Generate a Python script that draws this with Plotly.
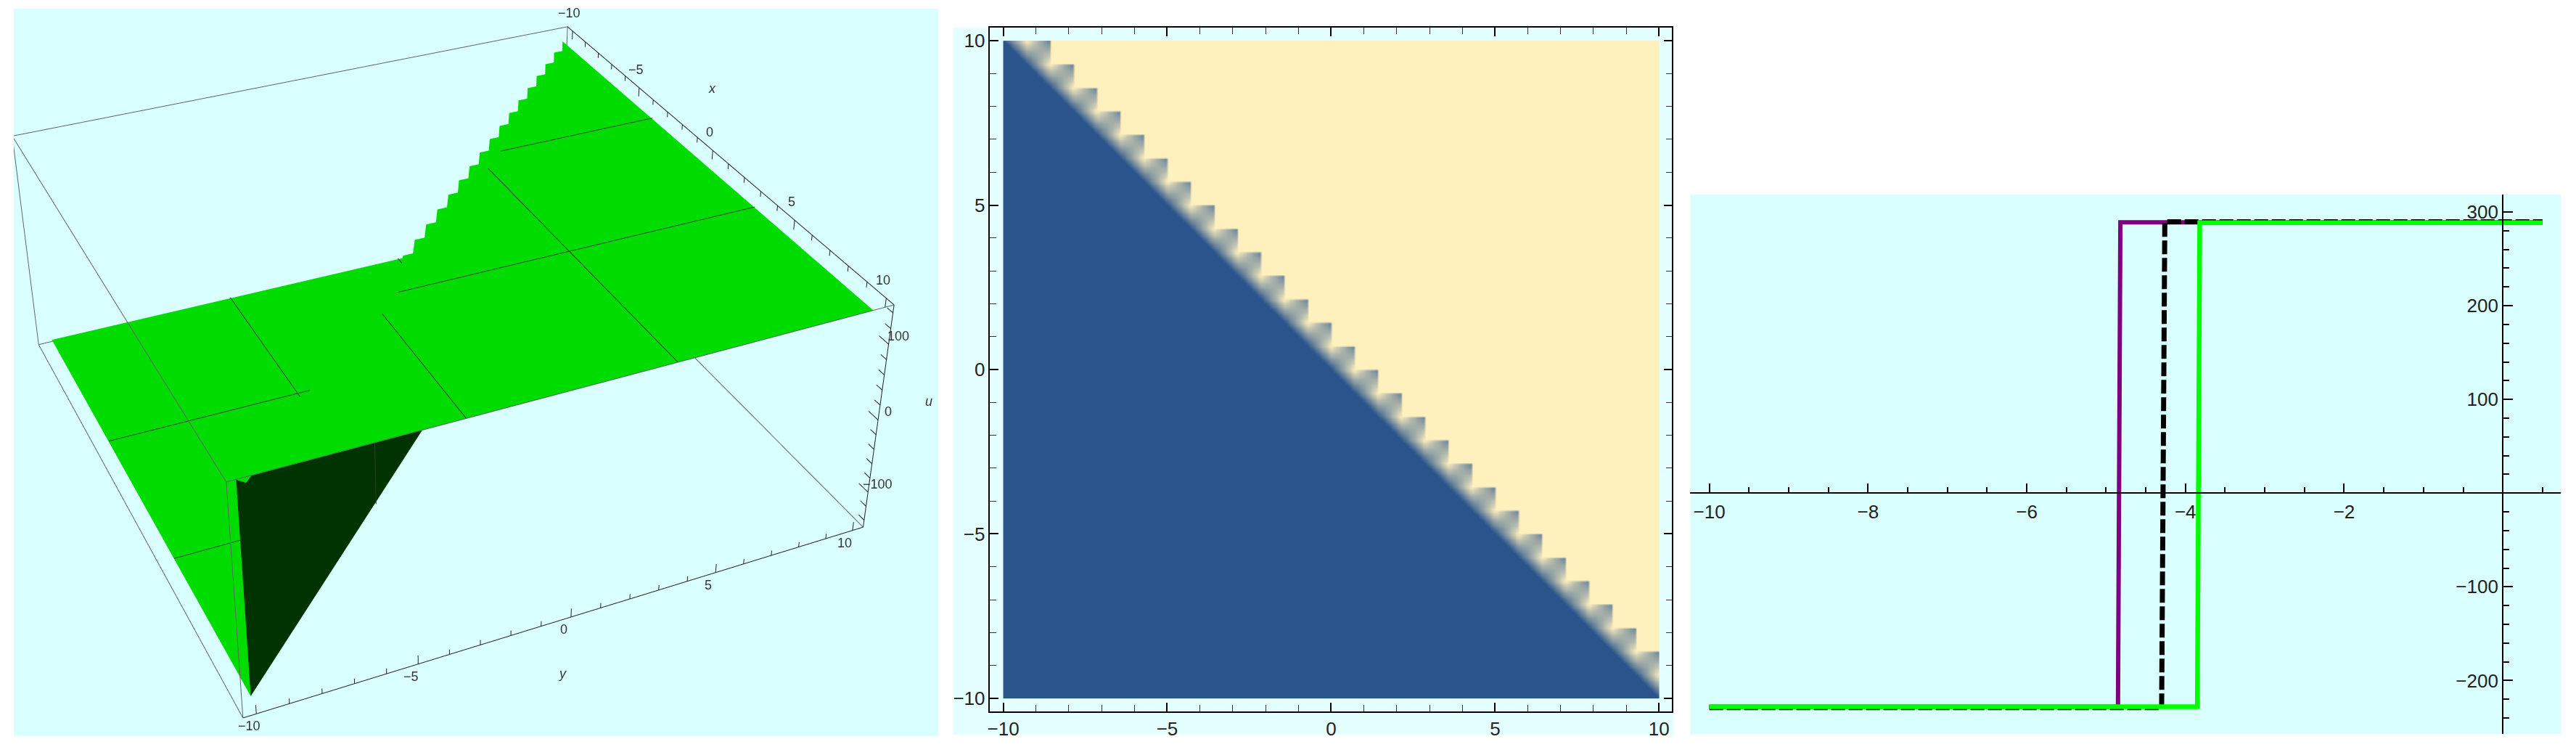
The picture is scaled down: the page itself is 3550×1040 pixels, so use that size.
import numpy as np
import plotly.graph_objects as go

W, H = 3550, 1040
CYAN = "#DAFFFF"

# --- 3D panel
x_range = [-10.4, 10.4]
y_range = [-10.4, 10.4]
u_range = [-150, 150]
u_low, u_high = -138, 138
grid = [-10, -9.286, -8.571, -7.857, -7.143, -6.429, -5.714, -5, -4.286, -3.571, -2.857, -2.143, -1.429, -0.714, 0,
        0.714, 1.429, 2.143, 2.857, 3.571, 4.286, 5, 5.714, 6.429, 7.143, 7.857, 8.571, 9.286, 10]
tooth_frac = 0.53
mesh_vals = [-3.33, 3.33]
mesh_gap = 0.9
wall_x = [10, -10, -10, 9.6, 10]
wall_y = [-10, 10, 10, -9.6, -10]
wall_u = [-138, -138, 120, 120, 138]
cam_eye = dict(x=2.5473, y=-1.1331, z=1.8024)
cam_center = dict(x=0.208, y=-0.0142, z=0.0466)
cam_up = dict(x=-0.311, y=0.1371, z=1)
cam_aspect = dict(x=1.0, y=0.9901, z=0.3957)
cam_fovy = 2 * np.arctan(np.tan(np.pi / 8) / 2.4455)

vx, vy, vz, ti, tj, tk = [], [], [], [], [], []
for k in range(len(grid) - 1):
    x_a, x_b = grid[k], grid[k + 1]
    y_top, y_bot = -x_a, -x_b
    y_mid = y_top - tooth_frac * (y_top - y_bot)
    for row in ([x_a, y_top, x_b, y_mid], [x_b, y_mid, x_b, y_bot]):
        b = len(vx)
        vx += [row[0], 10, 10, row[2]]
        vy += [row[1], row[1], row[3], row[3]]
        vz += [u_high] * 4
        ti += [b, b]
        tj += [b + 1, b + 2]
        tk += [b + 2, b + 3]

fig = go.Figure()
flat = dict(ambient=1, diffuse=0, specular=0, fresnel=0, roughness=1)
fig.add_trace(go.Mesh3d(x=vx, y=vy, z=vz, i=ti, j=tj, k=tk, color="#00DC00", flatshading=True, lighting=flat, hoverinfo="skip"))
fig.add_trace(go.Mesh3d(x=[-10, 10, -10], y=[-10, -10, 10], z=[u_low] * 3, i=[0], j=[1], k=[2], color="#00DC00",
                        flatshading=True, lighting=flat, hoverinfo="skip"))
fig.add_trace(go.Mesh3d(x=wall_x, y=wall_y, z=wall_u, i=[0, 0, 0], j=[1, 2, 3], k=[2, 3, 4],
                        color="#003300", flatshading=True, lighting=flat, hoverinfo="skip"))

lx, ly, lz = [], [], []
for v in mesh_vals:
    lx += [v, v, None, v, v, None, -10, -v, None, -v + mesh_gap, 10, None]
    ly += [-v + mesh_gap, 10, None, -10, -v, None, v, v, None, v, v, None]
    lz += [u_high + 1, u_high + 1, None, u_low + 1, u_low + 1, None, u_low + 1, u_low + 1, None, u_high + 1, u_high + 1, None]
lx += [mesh_vals[1] + 0.03, mesh_vals[1] + 0.03, None]
ly += [mesh_vals[0] + 0.03, mesh_vals[0] + 0.03, None]
lz += [u_low, 120, None]
fig.add_trace(go.Scatter3d(x=lx, y=ly, z=lz, mode="lines", line=dict(color="#2F3F2F", width=2), hoverinfo="skip"))

bx, by, bz = [], [], []
xa, xb = x_range
ya, yb = y_range
ua, ub = u_range
for a, c in [(xa, ya), (xa, yb), (xb, yb), (xb, ya)]:
    bx += [a, a, None]
    by += [c, c, None]
    bz += [ua, ub, None]
bx += [xa, xa, xb, xb, xa, None, xa, xa, xb, xb, xa, None]
by += [ya, yb, yb, ya, ya, None, ya, yb, yb, ya, ya, None]
bz += [ub, ub, ub, ub, ub, None, ua, ua, ua, ua, ua, None]
fig.add_trace(go.Scatter3d(x=bx, y=by, z=bz, mode="lines", line=dict(color="#5E6666", width=2), hoverinfo="skip"))

x3d_ticks = list(range(-10, 11))
y3d_ticks = list(range(-10, 11))
u3d_ticks = [-140, -120, -100, -80, -60, -40, -20, 0, 20, 40, 60, 80, 100, 120, 140]
tx, ty, tz = [xa, xb, None, xb, xb, None, xb, xb, None], [yb, yb, None, ya, yb, None, yb, yb, None], [ub, ub, None, ua, ua, None, ua, ub, None]
for v in x3d_ticks:
    tx += [v, v, None]
    ty += [yb, yb, None]
    tz += [ub, ub - (12 if v % 5 == 0 else 7), None]
for v in y3d_ticks:
    tx += [xb, xb, None]
    ty += [v, v, None]
    tz += [ua, ua + (12 if v % 5 == 0 else 7), None]
for v in u3d_ticks:
    tx += [xb, xb - (0.5 if v % 100 == 0 else 0.3), None]
    ty += [yb, yb, None]
    tz += [v, v, None]
fig.add_trace(go.Scatter3d(x=tx, y=ty, z=tz, mode="lines", line=dict(color="#222222", width=2), hoverinfo="skip"))

font3d = dict(family="Liberation Sans", size=18, color="#333333")
ann = []
for v in [-10, -5, 0, 5, 10]:
    ann.append(dict(x=v, y=yb, z=ub, text=str(v).replace("-", "\u2212"), showarrow=False, font=font3d, xshift=-4, yshift=25))
    ann.append(dict(x=xb, y=v, z=ua, text=str(v).replace("-", "\u2212"), showarrow=False, font=font3d, xshift=-10, yshift=-17))
for v in [-100, 0, 100]:
    ann.append(dict(x=xb, y=yb, z=v, text=str(v).replace("-", "\u2212"), showarrow=False, font=font3d, xshift=14, yshift=11))
ann.append(dict(x=0, y=yb, z=ub, text="<i>x</i>", showarrow=False, font=font3d, xshift=0, yshift=85))
ann.append(dict(x=xb, y=0, z=ua, text="<i>y</i>", showarrow=False, font=font3d, xshift=-12, yshift=-78))
ann.append(dict(x=xb, y=yb, z=0, text="<i>u</i>", showarrow=False, font=font3d, xshift=70, yshift=25))

# --- density panel
blue = "#29548C"
cream = "#FFF1BE"
tooth_corners = [0.0, 1.0, 1.0, 0.25]  # lower left, lower right, upper left, upper right
sub = 12
n_cells = len(grid) - 1
z2 = np.ones((n_cells * sub, n_cells * sub))
fine_edges = []
for n in range(n_cells):
    for s in range(sub):
        fine_edges.append(grid[n] + (grid[n + 1] - grid[n]) * s / sub)
fine_edges.append(grid[-1])
for r in range(n_cells):
    for c in range(n_cells):
        if r + c > n_cells:
            continue
        for a in range(sub):
            for b_ in range(sub):
                uu, vv = (b_ + 0.5) / sub, (a + 0.5) / sub
                if r + c == n_cells:
                    val = (tooth_corners[0] * (1 - uu) * (1 - vv) + tooth_corners[1] * uu * (1 - vv)
                           + tooth_corners[2] * (1 - uu) * vv + tooth_corners[3] * uu * vv)
                elif r + c == n_cells - 1:
                    val = max(0.0, uu + vv - 1)
                else:
                    val = 0.0
                z2[r * sub + a, c * sub + b_] = val
fig.add_trace(go.Heatmap(x=fine_edges, y=fine_edges, z=z2, zmin=0, zmax=1, zsmooth="best", showscale=False,
                         colorscale=[[0, blue], [1, cream]], xaxis="x2", yaxis="y2", hoverinfo="skip"))

# --- line panel
purple_x = [-10, -4.85, -4.82, 0.5]
purple_u = [-228, -228, 289, 289]
black_x = [-10, -4.3, -4.26, 0.5]
black_u = [-229, -229, 289.5, 289.5]
green_x = [-10, -3.85, -3.82, 0.5]
green_u = [-228, -228, 288.5, 288.5]
fig.add_trace(go.Scatter(x=purple_x, y=purple_u, mode="lines", line=dict(color="#800080", width=6), xaxis="x3", yaxis="y3", hoverinfo="skip"))
fig.add_trace(go.Scatter(x=black_x, y=black_u, mode="lines", line=dict(color="black", width=7, dash="19px,5px"), xaxis="x3", yaxis="y3", hoverinfo="skip"))
fig.add_trace(go.Scatter(x=green_x, y=green_u, mode="lines", line=dict(color="#00FF00", width=6.5), xaxis="x3", yaxis="y3", hoverinfo="skip"))


def dom_x(a, b):
    return [a / W, b / W]


def dom_y(top, bottom):
    return [1 - bottom / H, 1 - top / H]


d2_major = [-10, -5, 0, 5, 10]
d2_minor = [v for v in range(-10, 11) if v % 5]
l3_x_major = [-10, -8, -6, -4, -2]
l3_x_minor = [-9.5, -9, -8.5, -7.5, -7, -6.5, -5.5, -5, -4.5, -3.5, -3, -2.5, -1.5, -1, -0.5, 0.5]
l3_y_major = [-200, -100, 100, 200, 300]
l3_y_minor = [-240, -220, -180, -160, -140, -120, -80, -60, -40, -20, 20, 40, 60, 80, 120, 140, 160, 180, 220, 240, 260, 280]

axis2 = dict(range=[-10.4, 10.4], showgrid=False, zeroline=False, showline=True, linecolor="black", linewidth=1.5, mirror="allticks",
             ticks="inside", ticklen=12, tickwidth=1.5, tickcolor="black", tickvals=d2_major,
             minor=dict(ticks="inside", ticklen=9, tickwidth=1.2, tickcolor="#333333", tickvals=d2_minor),
             tickfont=dict(family="Liberation Sans", size=26, color="#222222"))
axis3 = dict(showgrid=False, zeroline=False, showline=True, linecolor="black", linewidth=2, ticks="inside", tickwidth=2, tickcolor="black",
             anchor="free", tickfont=dict(family="Liberation Sans", size=26, color="#222222"))

fig.update_layout(
    width=W, height=H, margin=dict(l=0, r=0, t=0, b=0), paper_bgcolor="white", plot_bgcolor="rgba(0,0,0,0)", showlegend=False,
    shapes=[
        dict(type="rect", xref="paper", yref="paper", x0=1311 / W, x1=2305 / W, y0=1 - 1012 / H, y1=1 - 38 / H, fillcolor="#E4FFFF", line_width=0, layer="below"),
        dict(type="rect", xref="paper", yref="paper", x0=2328 / W, x1=3529 / W, y0=1 - 1011 / H, y1=1 - 268 / H, fillcolor=CYAN, line_width=0, layer="below"),
    ],
    scene=dict(
        domain=dict(x=dom_x(15, 1290), y=dom_y(12, 1014)), bgcolor=CYAN,
        xaxis=dict(range=x_range, visible=False), yaxis=dict(range=y_range, visible=False), zaxis=dict(range=u_range, visible=False),
        aspectmode="manual", aspectratio=cam_aspect,
        camera=dict(eye=cam_eye, center=cam_center, up=cam_up),
        annotations=ann,
    ),
    xaxis2=dict(axis2, domain=dom_x(1362, 2303), anchor="y2"),
    yaxis2=dict(axis2, domain=dom_y(38, 980), anchor="x2"),
    xaxis3=dict(axis3, domain=dom_x(2328, 3529), range=[-10.24, 0.73], position=1 - 679 / H, side="bottom", ticklen=12, tickvals=l3_x_major,
                minor=dict(ticks="inside", ticklen=7, tickwidth=1.5, tickcolor="black", tickvals=l3_x_minor), ticklabelstandoff=3),
    yaxis3=dict(axis3, domain=dom_y(268, 1011), range=[-257, 318.6], position=3449 / W, side="left", ticklen=13, tickvals=l3_y_major,
                minor=dict(ticks="inside", ticklen=8, tickwidth=1.5, tickcolor="black", tickvals=l3_y_minor)),
)

# plotly has no setting for the field of view, the reference uses a narrow one
post = """
document.body.style.margin = '0';
var gd = document.getElementById('{plot_id}');
var tries = 0;
var timer = setInterval(function () {
  tries += 1;
  var sc = gd._fullLayout && gd._fullLayout.scene && gd._fullLayout.scene._scene;
  if (sc && sc.glplot) {
    sc.glplot.fovy = FOVY;
    if (sc.glplot.camera) { sc.glplot.camera.fovy = FOVY; }
    if (sc.glplot.redraw) { sc.glplot.redraw(); }
    clearInterval(timer);
  } else if (tries > 100) { clearInterval(timer); }
}, 30);
""".replace("FOVY", str(float(cam_fovy)))
fig.write_html("out.html", post_script=post, config=dict(displayModeBar=False))
